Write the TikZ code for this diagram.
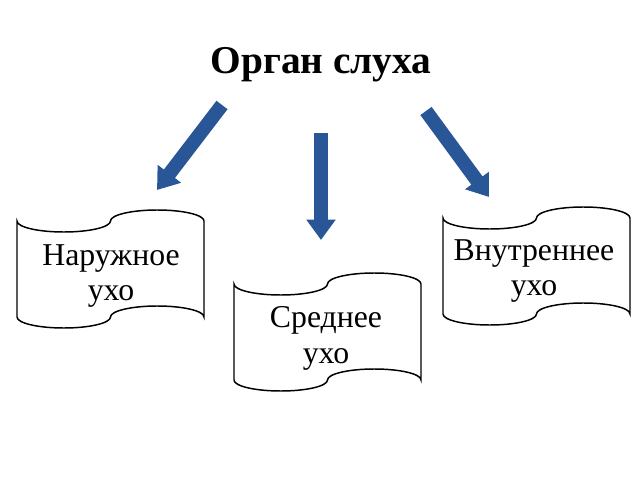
\documentclass[tikz,border=0pt]{standalone}
\usepackage{fontspec}
\setmainfont{Liberation Serif}
\usepackage{tikz}
\usetikzlibrary{arrows.meta}
\definecolor{arrowblue}{RGB}{40,86,150}
% Lochstreifen-Umriss, linke obere Ecke (Mitte der Welle) bei (#1,#2).
\newcommand{\tapeshape}[2]{%
    \draw[tapeline, shift={(#1,#2)}] (0,0)
        .. controls (0,6.08) and (20.93,11) .. (46.75,11)
        .. controls (72.57,11) and (93.5,6.08) .. (93.5,0)
        .. controls (93.5,-6.08) and (114.43,-11) .. (140.25,-11)
        .. controls (166.07,-11) and (187,-6.08) .. (187,0)
        -- (187,96)
        .. controls (187,89.92) and (166.07,85) .. (140.25,85)
        .. controls (114.43,85) and (93.5,89.92) .. (93.5,96)
        .. controls (93.5,102.08) and (72.57,107) .. (46.75,107)
        .. controls (20.93,107) and (0,102.08) .. (0,96) -- cycle;}

\begin{document}
\begin{tikzpicture}[x=0.025cm, y=-0.025cm,
    tapeline/.style={draw=black, line width=1.05pt, fill=white},
    label/.style={align=center, font=\fontsize{22.6}{25.5}\selectfont},
    bigarrow/.style={arrowblue, line width=9.9pt, -{Triangle[width=20pt, length=14.5pt]}}]
    \useasboundingbox (0,0) rectangle (640,480);

    % Ueberschrift.
    \node[anchor=base, font=\fontsize{28}{32}\selectfont\bfseries] (title) at (321,73) {Орган слуха};

    % Pfeile.
    \coordinate (a1) at (222,105);
    \coordinate (b1) at (157,190);
    \coordinate (a2) at (321,133);
    \coordinate (b2) at (321,240);
    \coordinate (a3) at (426,111);
    \coordinate (b3) at (489,197);
    \draw[bigarrow] (a1) -- (b1);
    \draw[bigarrow] (a2) -- (b2);
    \draw[bigarrow] (a3) -- (b3);

    % Streifen.
    \tapeshape{17}{221}
    \tapeshape{234}{284}
    \tapeshape{443}{218}

    % Beschriftung.
    \node[label] (outer)  at (111,276) {Наружное\\ухо};
    \node[label] (middle) at (326,338) {Среднее\\ухо};
    \node[label] (inner)  at (534,271) {Внутреннее\\ухо};
\end{tikzpicture}
\end{document}
